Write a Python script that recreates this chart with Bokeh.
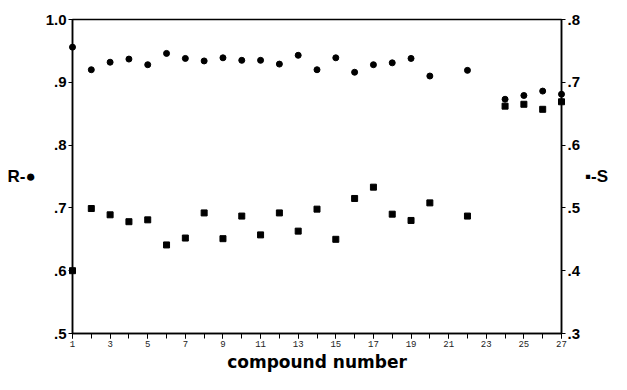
from bokeh.plotting import figure
from bokeh.models import Range1d, LinearAxis, FixedTicker, CustomJSTickFormatter
from bokeh.embed import file_html
from bokeh.resources import INLINE

compounds = [1, 2, 3, 4, 5, 6, 7, 8, 9, 10, 11, 12, 13, 14, 15, 16, 17, 18, 19, 20, 22, 24, 25, 26, 27]
R_values = [0.956, 0.920, 0.932, 0.937, 0.928, 0.946, 0.938, 0.934, 0.939, 0.935, 0.935, 0.929, 0.943,
            0.920, 0.939, 0.916, 0.928, 0.931, 0.938, 0.910, 0.919, 0.873, 0.879, 0.886, 0.881]
S_values = [0.400, 0.499, 0.489, 0.478, 0.481, 0.441, 0.452, 0.492, 0.451, 0.487, 0.457, 0.492, 0.463,
            0.498, 0.450, 0.515, 0.533, 0.490, 0.480, 0.508, 0.487, 0.662, 0.665, 0.657, 0.669]
x_labels = [1, 3, 5, 7, 9, 11, 13, 15, 17, 19, 21, 23, 25, 27]
x_minor = list(range(1, 28))
R_ticks = [0.5, 0.6, 0.7, 0.8, 0.9, 1.0]
S_ticks = [0.3, 0.4, 0.5, 0.6, 0.7, 0.8]
R_label = "R-\u25cf"
S_label = "\u25aa-S"
x_title = "compound number"

p = figure(width=611, height=374, output_backend="svg", toolbar_location=None,
           x_range=Range1d(1, 27), y_range=Range1d(0.5, 1.0),
           min_border_left=72, min_border_right=49, min_border_top=19, min_border_bottom=40)
p.extra_y_ranges = {"S": Range1d(0.3, 0.8)}
p.grid.visible = False
p.outline_line_color = "black"
p.outline_line_width = 1.5
p.background_fill_color = "white"
p.border_fill_color = "white"

fmt = CustomJSTickFormatter(code="""
const s = tick.toFixed(1);
return tick >= 0.999 ? s : s.replace(/^0/, '');
""")

xa = p.xaxis[0]
xa.ticker = FixedTicker(ticks=x_labels, minor_ticks=x_minor)
xa.major_tick_in = 0
xa.major_tick_out = 5
xa.minor_tick_in = 0
xa.minor_tick_out = 5
xa.axis_line_width = 1.5
xa.major_label_standoff = 2
xa.major_label_text_font = "Liberation Mono"
xa.major_label_text_font_size = "9px"
xa.major_label_text_color = "#222222"
xa.axis_label = x_title
xa.axis_label_text_font = "DejaVu Sans"
xa.axis_label_text_font_style = "bold"
xa.axis_label_text_font_size = "17px"
xa.axis_label_text_color = "black"
xa.axis_label_standoff = 2

ya = p.yaxis[0]
ya.ticker = FixedTicker(ticks=R_ticks, minor_ticks=[])
ya.formatter = fmt
ya.major_tick_in = 0
ya.major_tick_out = 4
ya.axis_line_width = 1.5
ya.major_label_standoff = 2
ya.major_label_text_font = "Liberation Sans"
ya.major_label_text_font_style = "bold"
ya.major_label_text_font_size = "15px"
ya.major_label_text_color = "black"
ya.axis_label = R_label
ya.axis_label_orientation = "horizontal"
ya.axis_label_text_font = "Liberation Sans"
ya.axis_label_text_font_style = "bold"
ya.axis_label_text_font_size = "17px"
ya.axis_label_text_color = "black"
ya.axis_label_standoff = 7

ra = LinearAxis(y_range_name="S", ticker=FixedTicker(ticks=S_ticks, minor_ticks=[]), formatter=fmt)
ra.major_tick_in = 0
ra.major_tick_out = 4
ra.axis_line_width = 1.5
ra.major_label_standoff = 2
ra.major_label_text_font = "Liberation Sans"
ra.major_label_text_font_style = "bold"
ra.major_label_text_font_size = "15px"
ra.major_label_text_color = "black"
ra.axis_label = S_label
ra.axis_label_orientation = "horizontal"
ra.axis_label_text_font = "Liberation Sans"
ra.axis_label_text_font_style = "bold"
ra.axis_label_text_font_size = "17px"
ra.axis_label_text_color = "black"
ra.axis_label_standoff = 2
p.add_layout(ra, "right")

r1 = p.scatter(compounds, R_values, marker="circle", size=6, color="black")
r2 = p.scatter(compounds, S_values, marker="square", size=6, color="black", y_range_name="S")
r1.level = "overlay"
r2.level = "overlay"

open("out.html", "w").write(file_html(p, INLINE))
